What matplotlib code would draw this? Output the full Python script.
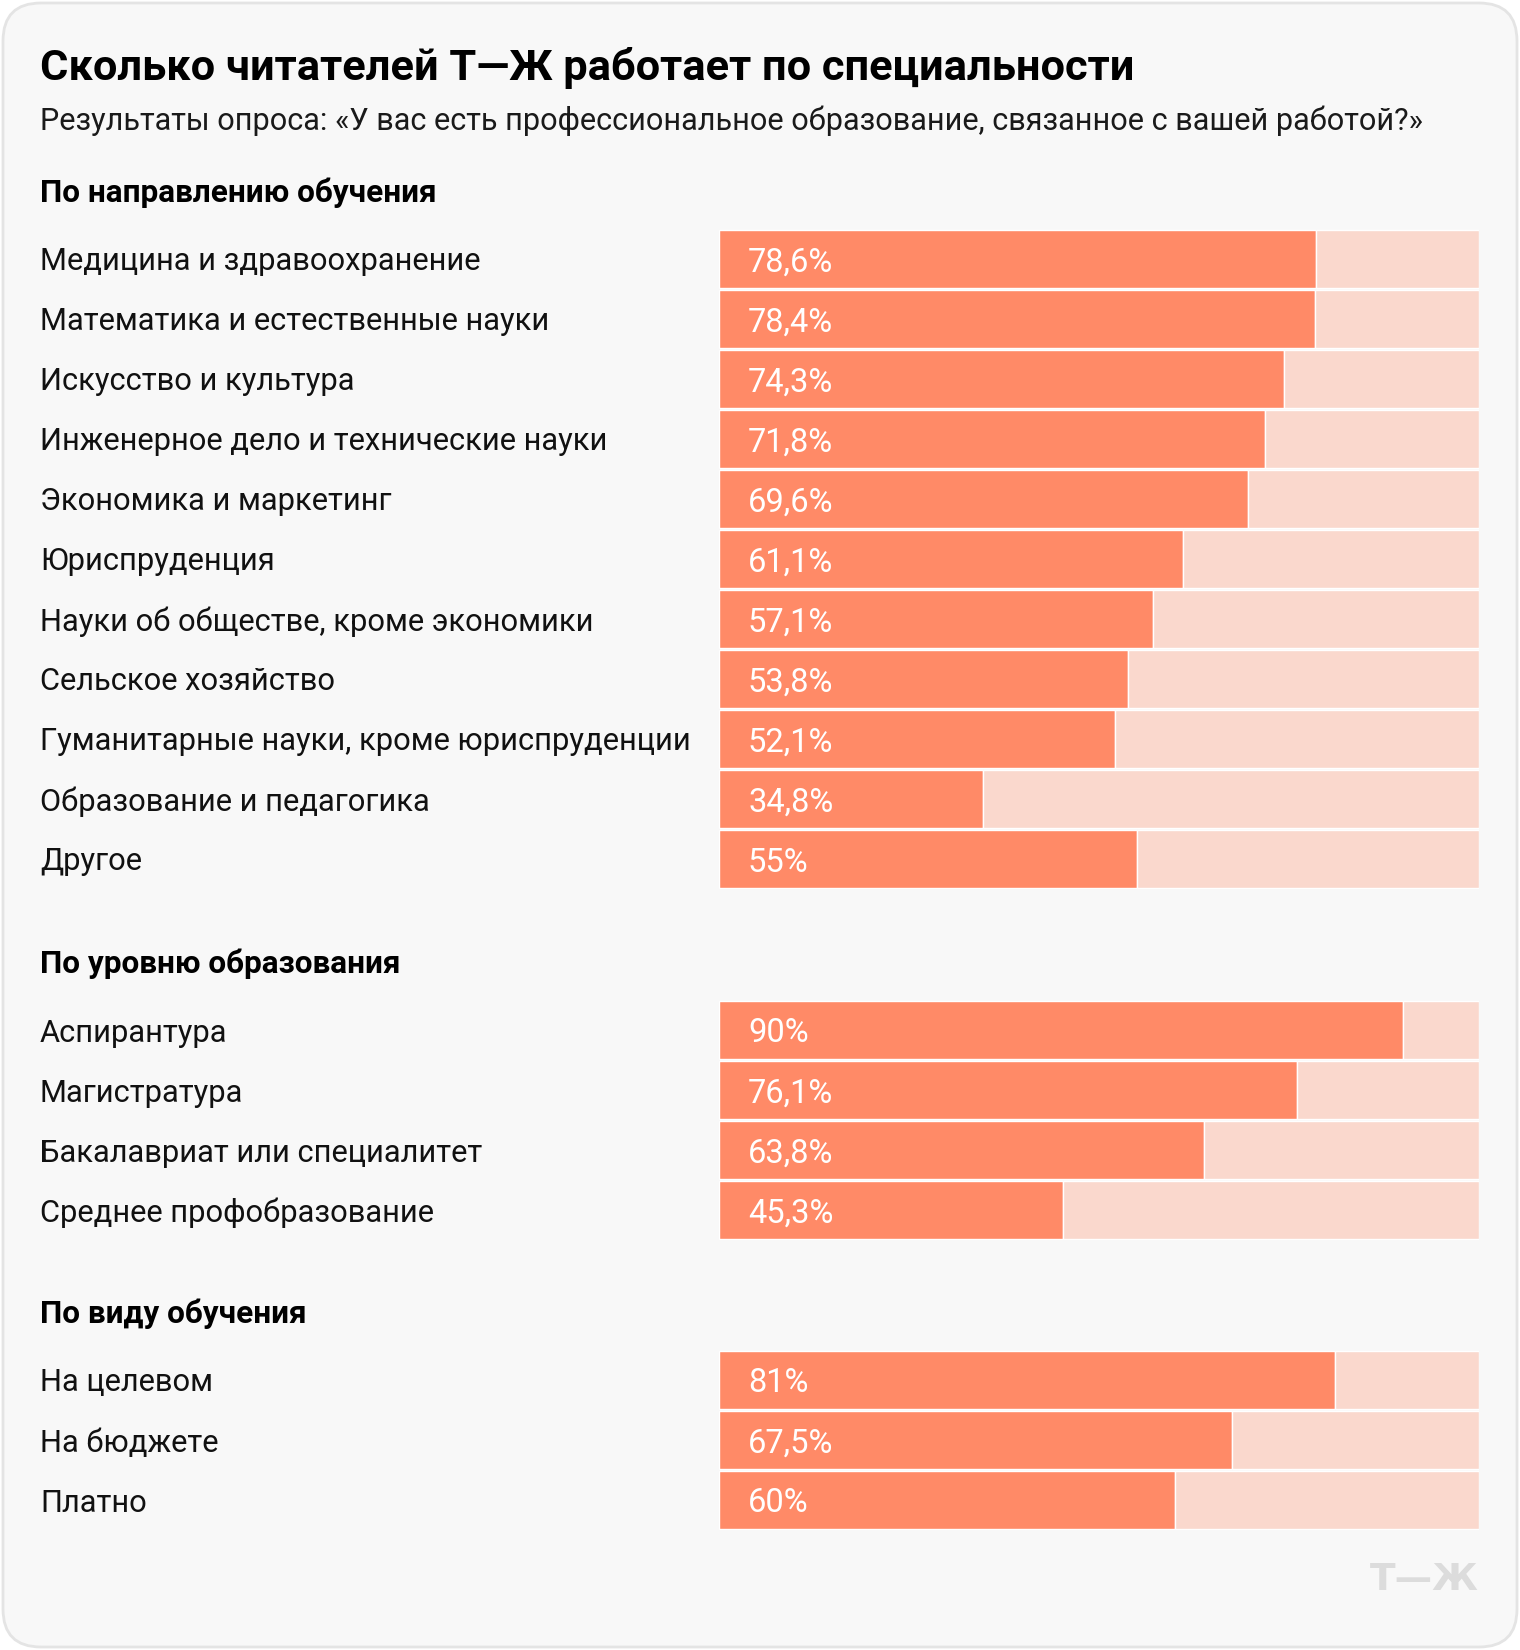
import matplotlib
matplotlib.use("Agg")
import matplotlib.pyplot as plt
from matplotlib.patches import FancyBboxPatch
import matplotlib.transforms as mtransforms

plt.rcParams['font.family'] = ['Roboto', 'DejaVu Sans']

title = "Сколько читателей Т—Ж работает по специальности"
subtitle = "Результаты опроса: «У вас есть профессиональное образование, связанное с вашей работой?»"

sec1_title = "По направлению обучения"
sec1_cats = ["Медицина и здравоохранение", "Математика и естественные науки",
             "Искусство и культура", "Инженерное дело и технические науки",
             "Экономика и маркетинг", "Юриспруденция",
             "Науки об обществе, кроме экономики", "Сельское хозяйство",
             "Гуманитарные науки, кроме юриспруденции", "Образование и педагогика",
             "Другое"]
sec1_vals = [78.6, 78.4, 74.3, 71.8, 69.6, 61.1, 57.1, 53.8, 52.1, 34.8, 55.0]
sec1_labels = ["78,6%", "78,4%", "74,3%", "71,8%", "69,6%", "61,1%", "57,1%",
               "53,8%", "52,1%", "34,8%", "55%"]

sec2_title = "По уровню образования"
sec2_cats = ["Аспирантура", "Магистратура", "Бакалавриат или специалитет",
             "Среднее профобразование"]
sec2_vals = [90.0, 76.1, 63.8, 45.3]
sec2_labels = ["90%", "76,1%", "63,8%", "45,3%"]

sec3_title = "По виду обучения"
sec3_cats = ["На целевом", "На бюджете", "Платно"]
sec3_vals = [81.0, 67.5, 60.0]
sec3_labels = ["81%", "67,5%", "60%"]

W, H = 1520, 1650
DPI = 100
DARK = "#FF8A67"
LIGHT = "#FAD8CD"
BG = "#F8F8F8"

fig = plt.figure(figsize=(W / DPI, H / DPI), dpi=DPI)
fig.patch.set_facecolor("white")

# rounded card
card = FancyBboxPatch((3 / W, 3 / H), (W - 6) / W, (H - 6) / H,
                      boxstyle="round,pad=0,rounding_size=0.025",
                      transform=fig.transFigure, facecolor=BG,
                      edgecolor="#E4E4E4", linewidth=2, mutation_aspect=W / H,
                      zorder=-10)
fig.patches.append(card)


def fy(px):
    return 1 - px / H


def fx(px):
    return px / W


LEFT = 40
BAR_L, BAR_R = 719, 1479
ROW = 60

fig.text(fx(LEFT), fy(80), title, fontsize=31.2, fontweight="bold",
         color="#000000", va="baseline", ha="left")
fig.text(fx(LEFT), fy(130), subtitle, fontsize=22.1, color="#1A1A1A",
         va="baseline", ha="left")


def section(top, head, cats, vals, labels):
    fig.text(fx(LEFT), fy(top - 27), head, fontsize=22.7, fontweight="bold",
             color="#000000", va="baseline", ha="left")
    n = len(cats)
    ax = fig.add_axes([fx(BAR_L), fy(top + n * ROW), fx(BAR_R - BAR_L), n * ROW / H])
    ax.set_xlim(0, 100)
    ax.set_ylim(n - 0.5, -0.5)
    ax.axis("off")
    ys = list(range(n))
    rest = [100 - v for v in vals]
    ax.barh(ys, vals, height=0.97, color=DARK, edgecolor="white", linewidth=1.0)
    ax.barh(ys, rest, left=vals, height=0.97, color=LIGHT, edgecolor="white", linewidth=1.0)
    trans = mtransforms.blended_transform_factory(fig.transFigure, ax.transData)
    for y, c, lab in zip(ys, cats, labels):
        ax.text(fx(LEFT), y, c, transform=trans, fontsize=22.2, color="#111111",
                va="center_baseline", ha="left", clip_on=False)
        ax.text(fx(BAR_L + 29), y, lab, transform=trans, fontsize=23.5,
                color="white", va="center_baseline", ha="left")


section(229, sec1_title, sec1_cats, sec1_vals, sec1_labels)
section(1000, sec2_title, sec2_cats, sec2_vals, sec2_labels)
section(1350, sec3_title, sec3_cats, sec3_vals, sec3_labels)

fig.text(fx(BAR_R), fy(1590), "Т—Ж", fontsize=27, fontweight="heavy",
         family=["DejaVu Sans"], color="#DCDCDC", ha="right", va="baseline")

fig.savefig("out.png", dpi=DPI, facecolor="white")
